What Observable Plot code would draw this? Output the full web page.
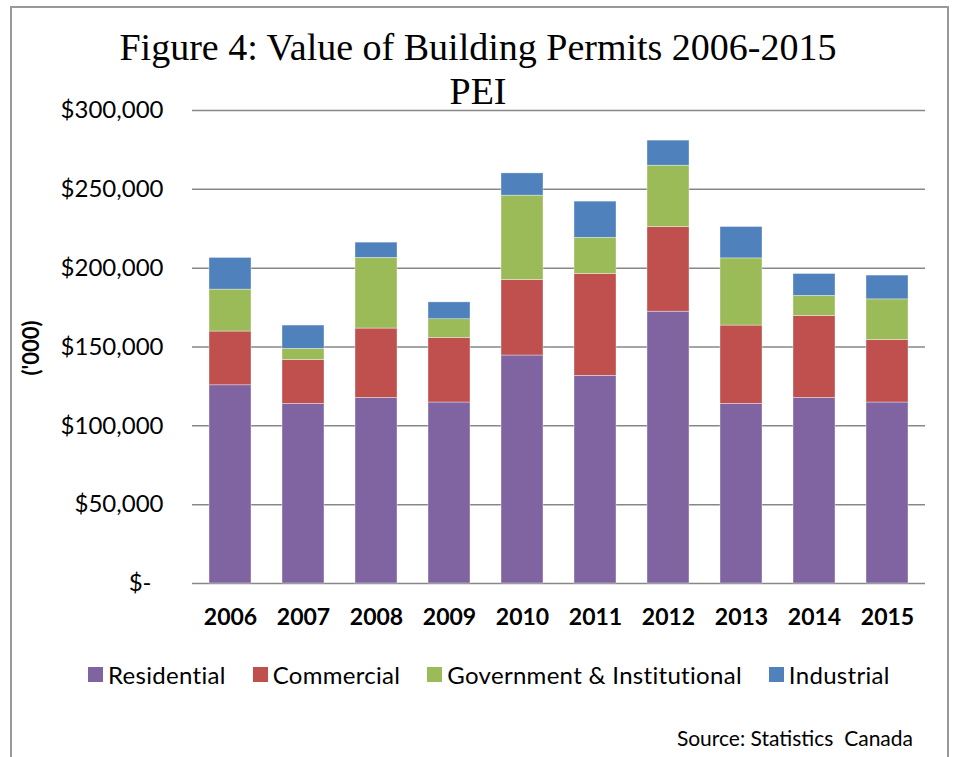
<!DOCTYPE html>
<html>
<head>
<meta charset="utf-8">
<script src="https://cdn.jsdelivr.net/npm/d3@7"></script>
<script src="https://cdn.jsdelivr.net/npm/@observablehq/plot@0.6"></script>
<style>
  html, body { margin: 0; padding: 0; background: #fff; }
  #wrap { position: relative; width: 956px; height: 757px; overflow: hidden; background: #fff; }
  #frame { position: absolute; left: 10px; top: 6px; width: 939px; height: 775px; border: 2px solid #999; box-sizing: border-box; }
  #chart { position: absolute; left: 0; top: 0; }
  .title { position: absolute; left: 0; width: 956px; text-align: center; font-family: "Liberation Serif", serif; font-size: 38px; color: #000; white-space: nowrap; }
  #ylabel { position: absolute; left: 30px; top: 348px; transform: translate(-50%, -50%) rotate(-90deg); font-family: Lato, sans-serif; font-weight: bold; font-size: 22px; color: #000; white-space: nowrap; }
  #legend { position: absolute; left: 88px; top: 660px; display: flex; align-items: center; font-family: Lato, sans-serif; font-size: 24px; letter-spacing: 0.3px; color: #000; white-space: nowrap; }
  .item { display: flex; align-items: center; margin-right: 27px; }
  .sw { width: 15px; height: 15px; margin-right: 5px; }
  #source { position: absolute; right: 43px; top: 725px; font-family: Lato, sans-serif; font-size: 21px; color: #000; white-space: pre; }
</style>
</head>
<body>
<div id="wrap">
  <div id="chart"></div>
  <div id="frame"></div>
  <div class="title" style="top:25px">Figure 4: Value of Building Permits 2006-2015</div>
  <div class="title" style="top:69px">PEI</div>
  <div id="ylabel">('000)</div>
  <div id="legend"></div>
  <div id="source">Source: Statistics  Canada</div>
</div>
<script>
const years = ["2006","2007","2008","2009","2010","2011","2012","2013","2014","2015"];
const categories = ["Residential","Commercial","Government & Institutional","Industrial"];
const colors = ["#8064A2","#C0504D","#9BBB59","#4F81BD"];
const residential = [125700, 113900, 117700, 114800, 144600, 131700, 172400, 113900, 117700, 114800];
const commercial  = [ 34100,  27900,  44000,  41000,  47900,  64600,  53700,  49700,  52000,  39700];
const government  = [ 26600,   7000,  44800,  11800,  53500,  22900,  38900,  42600,  12700,  25700];
const industrial  = [ 20100,  14800,   9700,  10700,  14100,  23000,  15900,  19900,  13900,  15100];
const yTicks = [0, 50000, 100000, 150000, 200000, 250000, 300000];

const series = [residential, commercial, government, industrial];
const data = [];
years.forEach((yr, i) => {
  categories.forEach((c, j) => data.push({year: yr, type: c, value: series[j][i]}));
});

const fmt = d3.format(",");
const chart = Plot.plot({
  width: 956,
  height: 757,
  marginTop: 110,
  marginBottom: 174,
  marginLeft: 192,
  marginRight: 31,
  style: {background: "transparent", color: "#000"},
  x: {domain: years, paddingInner: 0.43, paddingOuter: 0.215, label: null},
  y: {domain: [0, 300000], label: null},
  color: {domain: categories, range: colors},
  marks: [
    Plot.gridY(yTicks, {stroke: "#878787", strokeOpacity: 1, strokeWidth: 1.5}),
    Plot.barY(data, Plot.stackY({x: "year", y: "value", fill: "type", order: categories, stroke: "#ffffff", strokeOpacity: 0.6, strokeWidth: 0.6})),
    Plot.axisY(yTicks, {tickSize: 0, tickPadding: 29, fontSize: 24, fontFamily: "Lato",
      tickFormat: d => d === 0 ? "$-\u2002" : "$" + fmt(d), label: null}),
    Plot.axisX({tickSize: 0, tickPadding: 25, fontSize: 23, fontWeight: "bold", fontFamily: "Lato", label: null})
  ]
});
document.getElementById("chart").appendChild(chart);

const legend = document.getElementById("legend");
categories.forEach((c, i) => {
  const it = document.createElement("div");
  it.className = "item";
  const sw = document.createElement("div");
  sw.className = "sw";
  sw.style.background = colors[i];
  const t = document.createElement("span");
  t.textContent = c;
  it.appendChild(sw); it.appendChild(t);
  legend.appendChild(it);
});
</script>
</body>
</html>
